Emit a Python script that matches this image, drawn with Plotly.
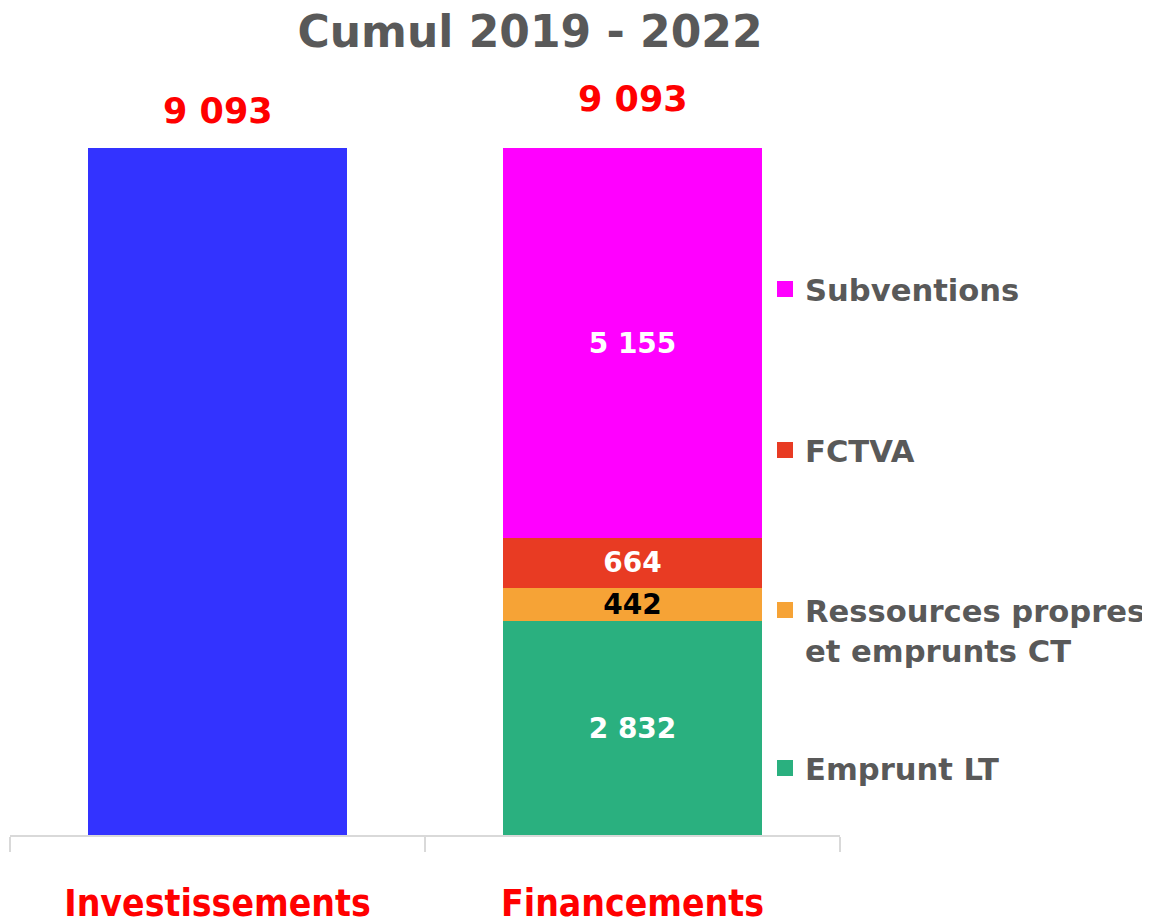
import plotly.graph_objects as go

# ---- data ----
categories = ["Investissements", "Financements"]
investissements_value = 9093
fin_names = ["Emprunt LT", "Ressources propres<br>et emprunts CT", "FCTVA", "Subventions"]
fin_values = [2832, 442, 664, 5155]
fin_colors = ["#2AB07F", "#F6A336", "#E83B23", "#FF00FF"]
fin_text_colors = ["white", "black", "white", "white"]
inv_color = "#3333FF"
title_text = "Cumul 2019 - 2022"

GRAY = "#595959"
FONT = "DejaVu Sans"
OFF = 8  # page body margin

def fmt(v):
    return f"{v:,.0f}".replace(",", " ")

fig = go.Figure()

fig.add_trace(go.Bar(
    x=[categories[0]], y=[investissements_value],
    marker=dict(color=inv_color, line=dict(width=0)),
    showlegend=False, hoverinfo="skip",
))

legend_ids = ["legend4", "legend3", "legend2", "legend"]
for name, val, col, tcol, lid in zip(fin_names, fin_values, fin_colors, fin_text_colors, legend_ids):
    fig.add_trace(go.Bar(
        x=[categories[1]], y=[val], name=name,
        marker=dict(color=col, line=dict(width=0)),
        text=[fmt(val)], textposition="inside", insidetextanchor="middle",
        constraintext="none", textangle=0,
        textfont=dict(family=FONT, size=28, color=tcol, weight="bold"),
        showlegend=False, hoverinfo="skip",
    ))
    # legend-only entry with a larger square symbol
    fig.add_trace(go.Scatter(
        x=[None], y=[None], mode="markers", name=name,
        marker=dict(symbol="square", size=16, color=col),
        legend=lid, showlegend=True, hoverinfo="skip",
    ))

totals = [investissements_value, sum(fin_values)]
shifts = [15, 27]
for cat, tot, ys in zip(categories, totals, shifts):
    fig.add_annotation(
        x=cat, y=tot, text=fmt(tot), showarrow=False,
        yanchor="bottom", yshift=ys,
        font=dict(family=FONT, size=35, color="#FF0000", weight="bold"),
    )

legend_font = dict(family=FONT, size=30.6, color=GRAY, weight="bold")
def leg(yc, valign="middle", yanchor="middle"):
    return dict(x=757 / 1150, y=1 - (yc - OFF) / 918, xref="container", yref="container",
                xanchor="left", yanchor=yanchor, font=legend_font,
                bgcolor="rgba(0,0,0,0)", valign=valign, itemclick=False,
                itemdoubleclick=False)

fig.update_layout(
    width=1150, height=918,
    barmode="stack", bargap=0.378,
    plot_bgcolor="white", paper_bgcolor="white",
    margin=dict(l=10 - OFF, r=1150 - 840 + OFF, t=80 - OFF, b=918 - 835 + OFF, autoexpand=False),
    title=dict(text=title_text, x=(530 - OFF) / 1150, xref="container", xanchor="center",
               y=1 - (32 - OFF) / 918, yref="container", yanchor="middle",
               font=dict(family=FONT, size=44, color=GRAY, weight="bold")),
    legend=leg(289),
    legend2=leg(450),
    legend3=leg(630, valign="top"),
    legend4=leg(768),
    xaxis=dict(
        showline=True, linecolor="#D9D9D9", linewidth=1.5,
        ticks="outside", tickson="boundaries", ticklen=15, tickcolor="#D9D9D9",
        tickwidth=1.5, ticklabelstandoff=35,
        tickfont=dict(family="DejaVu Sans Condensed, Liberation Sans Narrow, DejaVu Sans",
                      size=37, color="#FF0000", weight="bold"),
        automargin=False, showgrid=False,
    ),
    yaxis=dict(visible=False, range=[0, 10000], showgrid=False, zeroline=False),
)

fig.write_html("out.html")
